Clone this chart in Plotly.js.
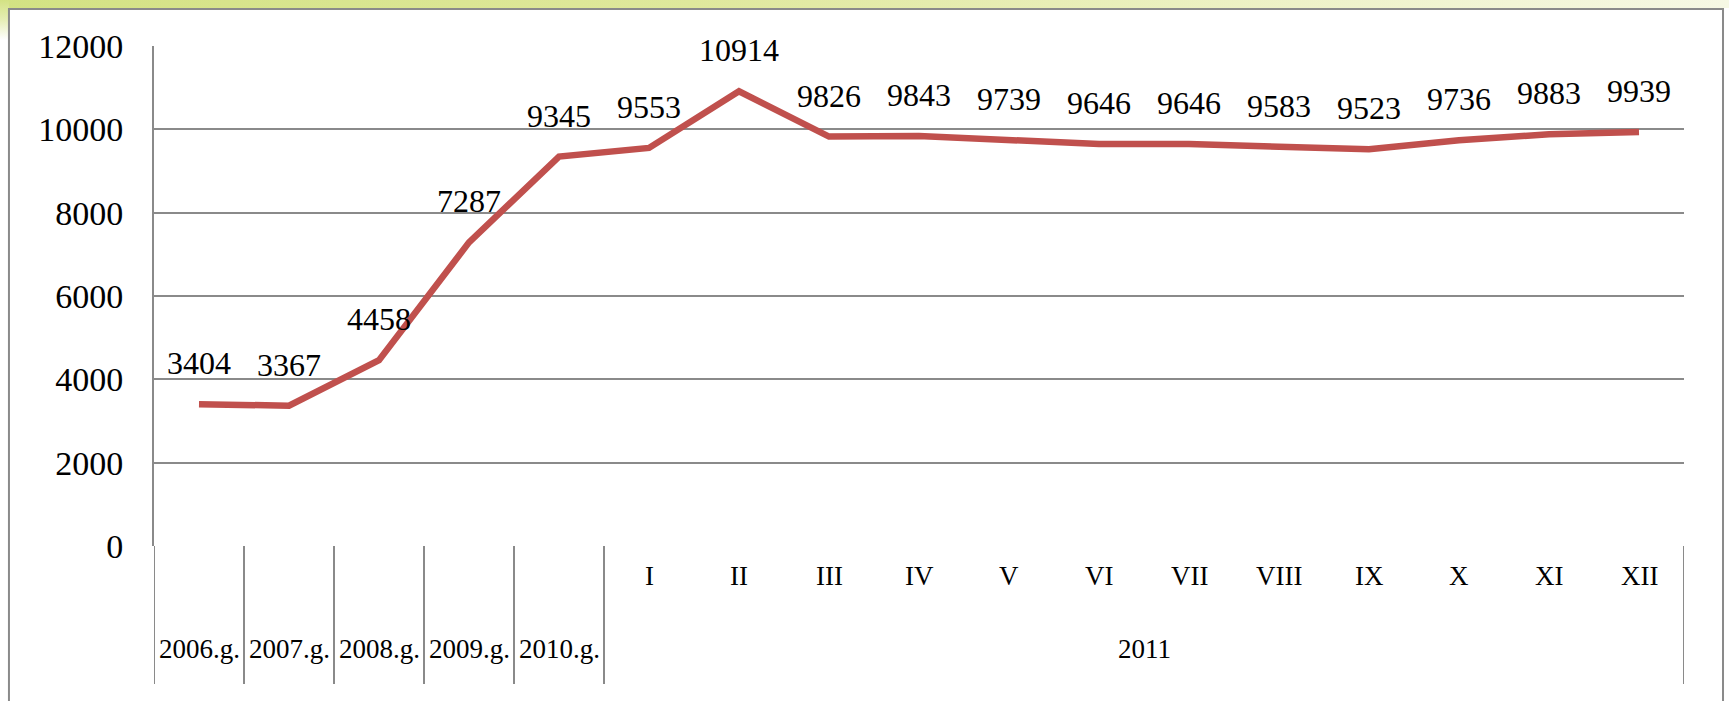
<!DOCTYPE html>
<html>
<head>
<meta charset="utf-8">
<script src="https://cdn.plot.ly/plotly-3.0.1.min.js"></script>
<style>
  html, body { margin: 0; padding: 0; background: #ffffff; }
  #wrap { position: relative; width: 1729px; height: 701px; overflow: hidden; }
  #topband { position: absolute; left: 0; top: 0; width: 1729px; height: 8px;
    background: linear-gradient(to right, #d3e283 0%, #dfe89c 40%, #eef2c8 75%, #f6f8e4 100%); }
  #leftband { position: absolute; left: 0; top: 0; width: 9px; height: 40px;
    background: linear-gradient(to bottom, #d3e283 0%, #e6eeb5 50%, #ffffff 100%); }
  #chart { position: absolute; left: 0; top: 0; width: 1729px; height: 701px; }
</style>
</head>
<body>
<div id="wrap">
  <div id="topband"></div>
  <div id="leftband"></div>
  <div id="chart"></div>
</div>
<script>
// ---- data ----
const categories = ["2006.g.", "2007.g.", "2008.g.", "2009.g.", "2010.g.",
  "I", "II", "III", "IV", "V", "VI", "VII", "VIII", "IX", "X", "XI", "XII"];
const values = [3404, 3367, 4458, 7287, 9345,
  9553, 10914, 9826, 9843, 9739, 9646, 9646, 9583, 9523, 9736, 9883, 9939];
const yearLabels = ["2006.g.", "2007.g.", "2008.g.", "2009.g.", "2010.g."];
const monthLabels = ["I", "II", "III", "IV", "V", "VI", "VII", "VIII", "IX", "X", "XI", "XII"];
const groupLabel = "2011";
const yTicks = [0, 2000, 4000, 6000, 8000, 10000, 12000];

// ---- build ----
const xIdx = categories.map((c, i) => i);
const serif = "Liberation Serif";
const grey = "#8a8a8a";

const trace = {
  x: xIdx, y: values, type: "scatter", mode: "lines",
  line: { color: "#c0504d", width: 6.5 },
  hoverinfo: "skip"
};

const annotations = [];
values.forEach((v, i) => {
  annotations.push({ x: i, y: v, xref: "x", yref: "y", text: String(v),
    showarrow: false, yshift: 41, font: { family: serif, size: 32, color: "#000000" } });
});
const nYears = yearLabels.length;
monthLabels.forEach((m, j) => {
  annotations.push({ x: nYears + j, y: -0.094, xref: "x", yref: "paper", text: m,
    showarrow: false, font: { family: serif, size: 27, color: "#000000" } });
});
yearLabels.forEach((yl, i) => {
  annotations.push({ x: i, y: -0.24, xref: "x", yref: "paper", text: yl,
    showarrow: false, font: { family: serif, size: 27, color: "#000000" } });
});
annotations.push({ x: (nYears + categories.length - 1) / 2, y: -0.24, xref: "x", yref: "paper",
  text: groupLabel, showarrow: false, font: { family: serif, size: 27, color: "#000000" } });

const shapes = [];
for (let i = 0; i <= nYears; i++) {
  shapes.push({ type: "line", xref: "x", yref: "paper", x0: i - 0.5, x1: i - 0.5,
    y0: 0, y1: -0.276, line: { color: grey, width: 2 } });
}
shapes.push({ type: "line", xref: "x", yref: "paper",
  x0: categories.length - 0.5, x1: categories.length - 0.5,
  y0: 0, y1: -0.276, line: { color: grey, width: 2 } });
shapes.push({ type: "rect", xref: "paper", yref: "paper",
  x0: -0.0948, x1: 1.0255, y0: 1.074, y1: -0.35,
  line: { color: grey, width: 2 }, fillcolor: "rgba(0,0,0,0)", layer: "below" });

const layout = {
  width: 1729, height: 701,
  margin: { l: 154, r: 45, t: 46, b: 155 },
  paper_bgcolor: "rgba(0,0,0,0)",
  plot_bgcolor: "rgba(0,0,0,0)",
  showlegend: false,
  font: { family: serif },
  xaxis: {
    range: [-0.5, categories.length - 0.5],
    showticklabels: false, showgrid: false, zeroline: false,
    showline: false, ticks: ""
  },
  yaxis: {
    range: [0, 12000], tickvals: yTicks, ticktext: yTicks.map(String),
    showgrid: true, gridcolor: grey, gridwidth: 2,
    zeroline: false, showline: true, linecolor: grey, linewidth: 2,
    ticks: "outside", ticklen: 22, tickcolor: "rgba(0,0,0,0)",
    tickfont: { family: serif, size: 34, color: "#000000" }
  },
  annotations: annotations,
  shapes: shapes
};

Plotly.newPlot("chart", [trace], layout, { displayModeBar: false, staticPlot: true });
</script>
</body>
</html>
